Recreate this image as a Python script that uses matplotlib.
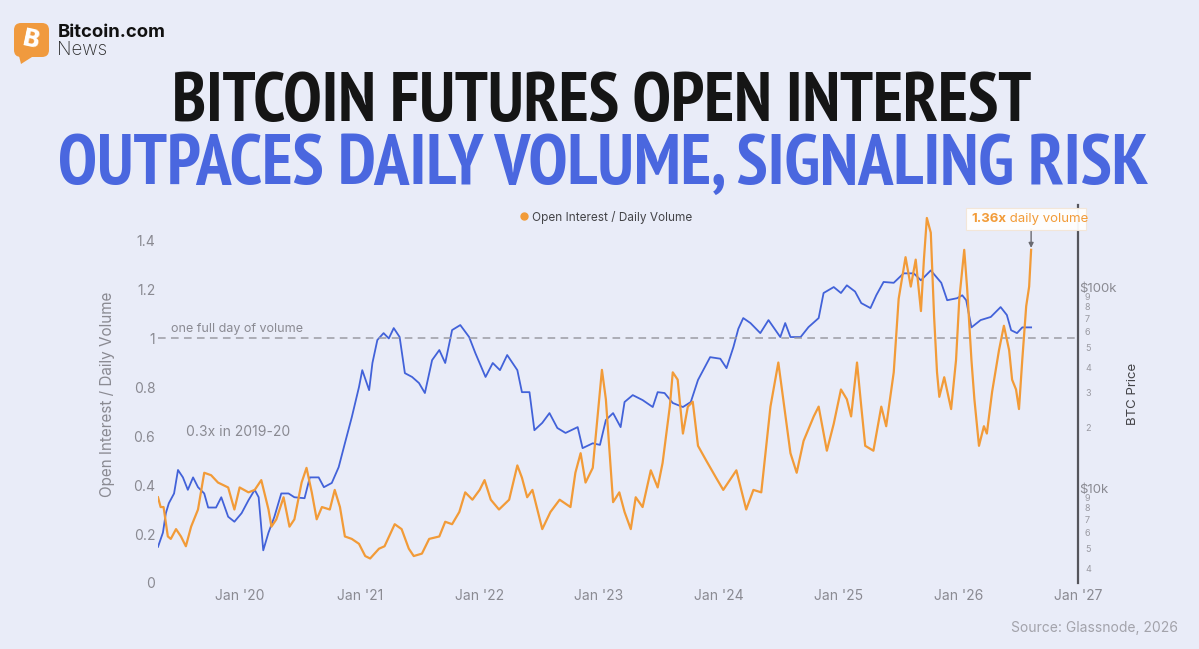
import math
import pandas as pd
import matplotlib
matplotlib.use("Agg")
import matplotlib.pyplot as plt
import matplotlib.dates as mdates
import matplotlib.ticker as mticker
from matplotlib import font_manager as fm
from matplotlib.patches import FancyBboxPatch, Polygon, Rectangle
from matplotlib.lines import Line2D
from matplotlib.transforms import IdentityTransform

# ---- data ----
btc_dates = [
    "2019-04-27", "2019-05-12", "2019-05-21", "2019-05-30", "2019-06-15", "2019-06-27", "2019-07-12", "2019-07-27", "2019-08-12", "2019-08-27",
    "2019-09-15", "2019-09-27", "2019-10-21", "2019-11-06", "2019-11-27", "2019-12-16", "2020-01-07", "2020-01-28", "2020-02-16", "2020-02-28",
    "2020-03-13", "2020-03-29", "2020-04-16", "2020-05-07", "2020-05-29", "2020-06-16", "2020-07-17", "2020-08-02", "2020-08-29", "2020-09-14",
    "2020-10-08", "2020-10-29", "2020-11-17", "2020-12-08", "2020-12-30", "2021-01-09", "2021-01-30", "2021-02-09", "2021-02-24", "2021-03-15",
    "2021-03-31", "2021-04-15", "2021-05-03", "2021-05-19", "2021-06-10", "2021-07-01", "2021-07-19", "2021-08-10", "2021-09-01", "2021-09-19",
    "2021-10-10", "2021-11-04", "2021-12-01", "2021-12-20", "2022-01-20", "2022-02-11", "2022-03-05", "2022-03-27", "2022-04-27", "2022-05-11",
    "2022-06-03", "2022-06-18", "2022-07-12", "2022-08-03", "2022-08-27", "2022-09-21", "2022-10-28", "2022-11-12", "2022-12-13", "2023-01-04",
    "2023-01-22", "2023-02-13", "2023-03-08", "2023-03-20", "2023-04-14", "2023-05-14", "2023-06-14", "2023-06-29", "2023-07-20", "2023-08-14",
    "2023-09-14", "2023-10-08", "2023-10-30", "2023-12-06", "2024-01-06", "2024-01-25", "2024-02-15", "2024-03-01", "2024-03-16", "2024-04-07",
    "2024-05-07", "2024-06-01", "2024-07-07", "2024-07-22", "2024-08-07", "2024-09-07", "2024-10-01", "2024-11-01", "2024-11-16", "2024-12-17",
    "2025-01-08", "2025-01-26", "2025-02-20", "2025-03-11", "2025-04-08", "2025-04-26", "2025-05-18", "2025-06-18", "2025-07-18", "2025-08-18",
    "2025-09-09", "2025-10-09", "2025-11-10", "2025-11-28", "2025-12-28", "2026-01-13", "2026-01-25", "2026-02-10", "2026-03-10", "2026-04-10",
    "2026-05-10", "2026-05-29", "2026-06-11", "2026-06-29", "2026-07-15", "2026-08-11"]
btc_k = [
    5.1, 6.0, 7.5, 8.4, 9.4, 12.3, 11.3, 9.8, 11.3, 10.1,
    9.4, 8.0, 8.0, 9.0, 7.2, 6.8, 7.5, 8.7, 9.8, 9.0,
    4.9, 6.0, 7.2, 9.4, 9.4, 9.0, 8.9, 11.3, 11.3, 10.1,
    10.6, 12.7, 16.7, 22.5, 31.8, 38.6, 30.7, 41.9, 54.5, 59.0,
    55.5, 62.5, 56.4, 37.3, 35.7, 33.3, 29.7, 43.3, 48.6, 41.9,
    61.1, 64.7, 56.4, 46.9, 35.7, 41.9, 38.6, 45.9, 38.6, 30.0,
    30.0, 19.4, 21.1, 23.6, 19.9, 18.8, 20.1, 15.8, 16.7, 16.4,
    21.8, 23.6, 20.1, 26.8, 29.0, 27.4, 25.3, 30.0, 29.7, 26.5,
    25.3, 26.8, 34.5, 44.8, 44.0, 39.5, 50.3, 62.0, 70.1, 66.2,
    59.0, 68.5, 56.4, 66.2, 56.4, 56.4, 63.2, 70.1, 93.4, 100,
    93.4, 102, 95, 83.2, 78.6, 91.2, 106, 105, 117, 117,
    108, 121, 105, 86, 88, 91, 86, 63, 68.5, 71,
    79.5, 72.6, 61, 59, 63, 63]

oi_dates = [
    "2019-04-27", "2019-05-05", "2019-05-14", "2019-05-27", "2019-06-05", "2019-06-21", "2019-07-06", "2019-07-21", "2019-08-06", "2019-08-27",
    "2019-09-15", "2019-10-06", "2019-10-27", "2019-11-27", "2019-12-16", "2020-01-01", "2020-01-28", "2020-02-16", "2020-03-07", "2020-03-29",
    "2020-04-07", "2020-04-22", "2020-05-14", "2020-06-01", "2020-06-16", "2020-07-08", "2020-07-23", "2020-08-08", "2020-08-23", "2020-09-08",
    "2020-10-02", "2020-10-17", "2020-11-02", "2020-11-17", "2020-12-08", "2020-12-30", "2021-01-18", "2021-02-02", "2021-03-01", "2021-03-18",
    "2021-04-18", "2021-05-09", "2021-05-31", "2021-06-15", "2021-07-10", "2021-08-01", "2021-09-01", "2021-09-19", "2021-10-10", "2021-11-01",
    "2021-11-19", "2021-12-11", "2022-01-02", "2022-01-17", "2022-02-05", "2022-03-02", "2022-04-02", "2022-04-27", "2022-05-11", "2022-05-27",
    "2022-06-12", "2022-07-12", "2022-08-06", "2022-09-03", "2022-10-06", "2022-10-21", "2022-11-06", "2022-11-21", "2022-12-13", "2022-12-22",
    "2023-01-10", "2023-01-22", "2023-02-13", "2023-03-04", "2023-03-20", "2023-04-08", "2023-04-23", "2023-05-14", "2023-06-08", "2023-06-29",
    "2023-07-14", "2023-08-05", "2023-08-14", "2023-08-29", "2023-09-14", "2023-09-29", "2023-10-14", "2023-10-30", "2023-11-24", "2023-12-24",
    "2024-01-15", "2024-02-24", "2024-03-25", "2024-04-16", "2024-05-10", "2024-06-07", "2024-07-01", "2024-07-16", "2024-08-07", "2024-08-26",
    "2024-09-16", "2024-10-17", "2024-11-01", "2024-11-26", "2024-12-17", "2025-01-08", "2025-01-26", "2025-02-08", "2025-02-26", "2025-03-11",
    "2025-03-23", "2025-04-17", "2025-05-11", "2025-05-26", "2025-06-18", "2025-07-03", "2025-07-24", "2025-08-09", "2025-08-24", "2025-09-09",
    "2025-09-18", "2025-09-27", "2025-10-09", "2025-10-19", "2025-10-28", "2025-11-04", "2025-11-19", "2025-12-10", "2025-12-25", "2026-01-04",
    "2026-01-19", "2026-01-28", "2026-02-10", "2026-02-19", "2026-03-05", "2026-03-20", "2026-03-29", "2026-04-14", "2026-05-05", "2026-05-20",
    "2026-06-05", "2026-06-14", "2026-06-26", "2026-07-05", "2026-07-15", "2026-07-27", "2026-08-05", "2026-08-11"]
oi_ratio = [
    0.35, 0.31, 0.31, 0.19, 0.18, 0.22, 0.19, 0.15, 0.23, 0.30,
    0.45, 0.44, 0.41, 0.39, 0.30, 0.39, 0.37, 0.38, 0.42, 0.30,
    0.23, 0.26, 0.35, 0.23, 0.26, 0.41, 0.47, 0.37, 0.26, 0.31,
    0.30, 0.38, 0.31, 0.19, 0.18, 0.16, 0.11, 0.10, 0.14, 0.15,
    0.24, 0.22, 0.14, 0.11, 0.12, 0.18, 0.19, 0.25, 0.24, 0.29,
    0.37, 0.34, 0.38, 0.42, 0.34, 0.30, 0.34, 0.48, 0.43, 0.35,
    0.38, 0.22, 0.29, 0.34, 0.31, 0.45, 0.53, 0.41, 0.47, 0.60,
    0.87, 0.75, 0.33, 0.37, 0.29, 0.22, 0.35, 0.31, 0.46, 0.39,
    0.49, 0.72, 0.86, 0.83, 0.61, 0.72, 0.74, 0.56, 0.50, 0.43,
    0.38, 0.46, 0.30, 0.38, 0.37, 0.72, 0.90, 0.75, 0.53, 0.45,
    0.58, 0.68, 0.72, 0.54, 0.65, 0.79, 0.75, 0.68, 0.90, 0.72,
    0.56, 0.54, 0.72, 0.64, 0.86, 1.16, 1.33, 1.21, 1.32, 1.11,
    1.32, 1.49, 1.43, 1.09, 0.86, 0.76, 0.84, 0.71, 0.91, 1.16,
    1.36, 1.20, 0.91, 0.75, 0.56, 0.64, 0.61, 0.78, 0.95, 1.05,
    0.95, 0.83, 0.79, 0.71, 0.91, 1.13, 1.21, 1.36]

left_ticks = [0, 0.2, 0.4, 0.6, 0.8, 1, 1.2, 1.4]
price_major = [10000, 100000]
price_minor = [4000, 5000, 6000, 7000, 8000, 9000,
               20000, 30000, 40000, 50000, 60000, 70000, 80000, 90000]

title1 = "BITCOIN FUTURES OPEN INTEREST"
title2 = "OUTPACES DAILY VOLUME, SIGNALING RISK"

# ---- style ----
W, H = 1199, 649
BG = "#E9ECF8"
ORANGE = "#F29B38"
BLUE = "#4262D9"
TITLE_BLUE = "#4A67DF"
GREY = "#8A8A92"

plt.rcParams["font.family"] = ["Inter", "DejaVu Sans"]


def fx(x):
    return x / W


def fy(y):
    return 1 - y / H


def pick_condensed():
    best, best_score = None, -1
    for f in fm.fontManager.ttflist:
        n = f.fname.lower().replace("-", "").replace("_", "")
        if "italic" in n or "oblique" in n:
            continue
        if not ("narrow" in n or "condensed" in n or "cond" in n):
            continue
        if "bold" not in n and "black" not in n and "heavy" not in n:
            continue
        score = 1
        if "narrow" in n:
            score += 4
        if "black" in n or "heavy" in n:
            score += 2
        if "semi" in n or "extra" in n and "bold" in n:
            score -= 1
        if score > best_score:
            best, best_score = f.fname, score
    if best:
        return fm.FontProperties(fname=best)
    return fm.FontProperties(family="DejaVu Sans", weight="heavy")


fig = plt.figure(figsize=(W / 100, H / 100), dpi=100, facecolor=BG)
renderer = fig.canvas.get_renderer()


def fit_text(s, x0, x1, ytop, ybot, color, fp):
    t = fig.text(fx(x0), fy(ybot), s, fontproperties=fp, color=color,
                 ha="left", va="baseline")
    t.set_fontsize(50)
    w = t.get_window_extent(renderer).width
    fs = 50 * (x1 - x0) / w
    t.set_fontsize(fs)
    cap = 0.72 * fs * 100 / 72
    base = (ytop + ybot) / 2 + cap / 2
    t.set_y(fy(base))
    return t


# ---- header ----
tfp = pick_condensed()
fit_text(title1, 172, 1032, 69, 122, "#151515", tfp)
fit_text(title2, 58, 1150, 132, 186, TITLE_BLUE, tfp)

px = IdentityTransform()
fig.patches.append(FancyBboxPatch((14, H - 57), 35, 34,
                                  boxstyle="round,pad=0,rounding_size=7",
                                  transform=px, fc="#F09A3E", ec="none"))
fig.patches.append(Polygon([(18, H - 52), (32, H - 57), (21, H - 64)],
                           closed=True, transform=px, fc="#F09A3E", ec="none"))
fig.text(fx(31.5), fy(40), "B", color="white", fontsize=17, fontweight="bold",
         ha="center", va="center", rotation=-12, family="DejaVu Sans")

bt = fig.text(fx(58), fy(37), "Bitcoin.com", color="#111111", fontsize=14,
              fontweight="bold", ha="left", va="baseline")
w = bt.get_window_extent(renderer).width
bt.set_fontsize(14 * 108 / w)
nt = fig.text(fx(57), fy(55), "News", color="#2a2a2a", fontsize=14,
              fontweight="light", ha="left", va="baseline")
w = nt.get_window_extent(renderer).width
nt.set_fontsize(14 * 50 / w)

# ---- chart ----
ax = fig.add_axes([fx(158), fy(583), 920 / W, 378 / H])
ax2 = ax.twinx()
ax.set_zorder(ax2.get_zorder() + 1)
ax.patch.set_visible(False)
ax2.set_facecolor(BG)

bd = pd.to_datetime(btc_dates)
od = pd.to_datetime(oi_dates)

ax2.plot(bd, [v * 1000 for v in btc_k], color=BLUE, lw=1.3)
ax.plot(od, oi_ratio, color=ORANGE, lw=1.6, solid_joinstyle="round")

ax.set_xlim(pd.Timestamp("2019-04-27"), pd.Timestamp("2027-01-01"))
ax.set_ylim(0, 1.543)
ax2.set_yscale("log")
ax2.set_ylim(3370, 256000)

ax.axhline(1, color="#9C9CA4", lw=1.1, ls=(0, (5, 3.5)), zorder=1)

ax.xaxis.set_major_locator(mdates.YearLocator())
ax.xaxis.set_major_formatter(mdates.DateFormatter("Jan '%y"))
ax.set_yticks(left_ticks)
ax.yaxis.set_major_formatter(mticker.FuncFormatter(lambda v, p: f"{v:g}"))
ax.tick_params(axis="both", length=0, labelsize=10, labelcolor=GREY)
ax.tick_params(axis="y", pad=2)
ax.tick_params(axis="x", pad=4)

ax2.yaxis.set_major_locator(mticker.FixedLocator(price_major))
ax2.yaxis.set_major_formatter(mticker.FuncFormatter(lambda v, p: f"\\${int(v / 1000)}k"))
ax2.yaxis.set_minor_locator(mticker.FixedLocator(price_minor))
ax2.yaxis.set_minor_formatter(mticker.FuncFormatter(
    lambda v, p: str(int(round(v / 10 ** math.floor(math.log10(v)))))))
ax2.tick_params(axis="y", which="major", length=0, pad=1, labelsize=9.5, labelcolor=GREY)
ax2.tick_params(axis="y", which="minor", length=0, pad=5, labelsize=6.5, labelcolor="#9A9AA2")

for s in ax.spines.values():
    s.set_visible(False)
for k, s in ax2.spines.items():
    s.set_visible(k == "right")
ax2.spines["right"].set_color("#55555C")
ax2.spines["right"].set_linewidth(1.6)

ax.set_ylabel("Open Interest / Daily Volume", color=GREY, fontsize=11)
ax.yaxis.set_label_coords((115 - 158) / 920, 0.5)
ax2.set_ylabel("BTC Price", color="#444448", fontsize=9.5)
ax2.yaxis.set_label_coords((1127 - 158) / 920, 0.5)

ax.text(0.014, 1.012, "one full day of volume", transform=ax.get_yaxis_transform(),
        color=GREY, fontsize=9, ha="left", va="bottom")
ax.text(pd.Timestamp("2019-07-21"), 0.616, "0.3x in 2019-20", color=GREY,
        fontsize=10, ha="left", va="center")

# annotation on the last value
last_d, last_v = od[-1], oi_ratio[-1]
ax.annotate("", xy=(last_d, last_v + 0.008), xytext=(0, 19), textcoords="offset pixels",
            arrowprops=dict(arrowstyle="-|>", color="#6a6a70", lw=1,
                            shrinkA=0, shrinkB=0, mutation_scale=7))
fig.patches.append(Rectangle((966, H - 230), 120, 22, transform=px,
                             fc="white", ec="#F3E6D6", lw=0.8, alpha=0.95))
a1 = fig.text(fx(971), fy(219), "1.36x", color=ORANGE, fontsize=9.5,
              fontweight="bold", ha="left", va="center")
w1 = a1.get_window_extent(renderer).width
fig.text(fx(971 + w1), fy(219), " daily volume", color=ORANGE, fontsize=9.5,
         ha="left", va="center")

# legend
fig.legend(handles=[Line2D([], [], ls="none", marker="o", ms=5, color=ORANGE)],
           labels=["Open Interest / Daily Volume"], loc="center left",
           bbox_to_anchor=(fx(519), fy(217)), frameon=False, fontsize=8.5,
           labelcolor="#444448", handlelength=0.8, handletextpad=0.3,
           borderpad=0, borderaxespad=0)

fig.text(fx(1178), fy(628), "Source: Glassnode, 2026", color="#A3A3AB",
         fontsize=10, ha="right", va="center")

fig.savefig("out.png", dpi=100, facecolor=BG)
